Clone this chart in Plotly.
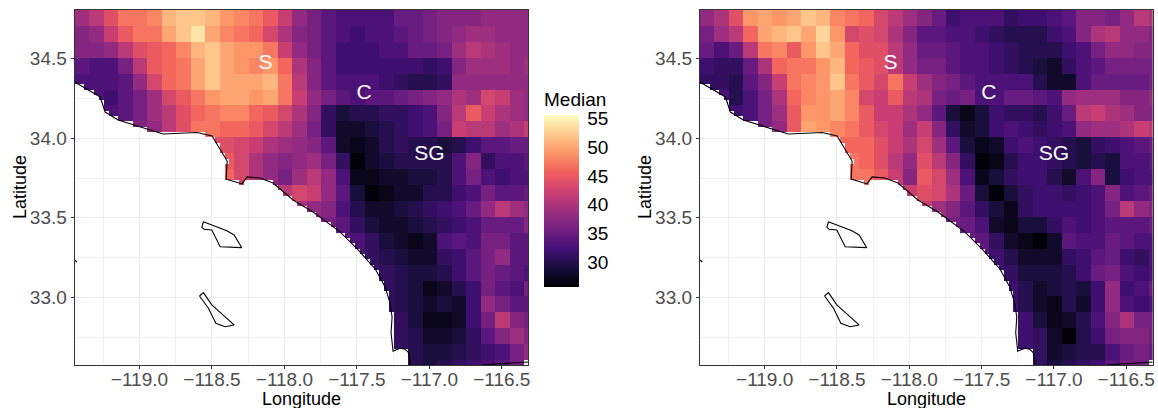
import numpy as np
import plotly.graph_objects as go

_ = None
LON_RANGE = [-119.447, -116.317]
LAT_RANGE = [32.574, 34.807]
CELL = 0.1
SPLIT = 3

median_left = [
 [39,41,44,47,47,48,51,52,52,51,49,48,47,45,42, 38,36,34,33,33,33,33,35,35,36,37,37,37,38,38,38,38],
 [37,38,42,45,47,47,50,52,54,50,48,47,46,43,40, 37,36,34,33,32,33,33,34,35,36,37,38,39,39,38,38,38],
 [37,37,38,41,44,45,46,48,51,52,50,49,49,47,42, 38,36,34,32,32,32,33,33,35,35,36,39,41,40,39,38,38],
 [34,33,33,36,41,45,46,47,50,52,50,49,48,49,46, 40,37,34,32,32,32,32,32,32,31,32,37,39,39,39,38,39],
 [33,33,33,34,38,43,46,47,50,52,50,50,50,51,47, 41,37,34,33,33,33,32,31,30,30,31,38,38,38,38,38,38],
 [33,33,32,34,36,39,43,45,47,49,50,50,49,50,47, 42,38,36,34,33,34,34,35,36,37,38,40,39,43,42,39,38],
 [_,33,33,34,36,39,41,44,46,47,48,48,46,45,43, 40,37,31,29,30,30,31,31,32,33,37,41,45,42,40,39,38],
 [_,_,35,36,37,38,41,44,47,47,46,46,45,43,41, 39,36,31,28,28,29,30,31,32,33,36,42,41,41,39,40,42],
 [_]*9 + [44,44,43,42,40,39, 38,37,34,28,27,28,30,31,30,30,29,30,32,34,34,35,35],
 [_]*9 + [45,45,43,40,38,37, 38,39,36,31,26,28,29,30,30,30,30,33,37,31,33,33,34],
 [_]*10 + [46,43,40,38,36, 39,41,38,33,27,27,28,28,29,29,30,33,36,33,32,33,33],
 [_]*14 + [41, 43,42,38,34,29,26,27,28,28,30,30,32,33,36,34,34,35],
 [_]*15 + [40,38,37,33,30,28,28,29,30,31,32,33,35,38,41,39,38],
 [_]*17 + [36,34,31,29,28,28,29,30,31,32,33,35,35,35,37],
 [_]*18 + [34,33,31,29,28,27,28,33,34,33,36,36,34,34],
 [_]*19 + [33,31,30,29,28,28,31,32,34,36,38,34,34],
 [_]*20 + [32,31,30,29,29,30,32,34,36,35,34,33],
 [_]*21 + [31,30,29,27,28,30,32,36,34,33,36],
 [_]*21 + [31,30,29,28,29,28,32,38,36,34,34],
 [_]*21 + [33,31,29,27,27,28,32,36,41,37,36],
 [_]*22 + [31,30,28,28,29,31,34,37,39,37],
 [_]*22 + [31,30,29,29,30,31,32,33,36,38],
 [_]*23 + [30,29,30,31,32,33,34,36,38],
]

median_right = [
 [38,40,44,49,50,49,50,52,51,48,47,46,43,41,39, 37,35,32,33,33,33,31,32,32,33,34,37,37,36,38,41,40],
 [36,39,41,46,50,51,52,50,53,49,43,44,43,40,37, 34,34,33,33,32,31,30,30,30,32,33,37,40,41,38,38,37],
 [35,33,35,41,47,48,45,49,52,50,46,44,44,41,38, 35,35,34,33,33,32,31,30,30,30,32,33,36,38,38,37,37],
 [32,31,31,35,40,46,47,47,49,51,46,45,44,41,38, 36,36,34,33,33,32,31,30,29,28,31,33,34,36,36,36,36],
 [31,31,30,34,37,42,47,48,49,52,47,45,43,47,42, 39,37,36,34,33,33,33,33,30,28,28,33,35,35,35,35,36],
 [33,33,30,33,36,40,46,48,49,50,48,43,42,45,41, 40,36,35,36,33,33,35,35,34,33,38,39,39,39,37,37,38],
 [_,33,32,33,36,39,45,49,49,50,48,45,42,42,40, 38,34,29,27,29,32,31,31,30,32,35,41,42,40,39,37,37],
 [_,_,34,34,36,38,45,50,49,48,47,45,43,42,39, 42,37,31,28,29,32,33,32,31,32,33,38,39,39,40,42,41],
 [_]*9 + [46,46,46,44,42,40, 43,39,34,29,27,28,32,33,32,31,30,29,31,32,33,34,35],
 [_]*9 + [47,47,46,44,41,38, 44,41,37,31,26,27,30,32,32,31,30,29,30,29,33,33,34],
 [_]*10 + [47,47,45,42,37, 45,43,39,33,27,29,31,32,32,30,28,33,37,29,32,33,33],
 [_]*14 + [42, 44,43,40,35,29,26,29,31,32,32,31,32,33,37,33,34,35],
 [_]*15 + [42,39,37,34,31,29,27,31,32,32,32,32,33,36,41,38,37],
 [_]*17 + [36,35,33,28,27,29,29,31,33,32,33,34,34,34,35],
 [_]*18 + [35,34,31,28,27,26,28,34,33,33,35,34,33,33],
 [_]*19 + [34,32,30,28,28,28,31,32,34,35,32,31,33],
 [_]*20 + [32,31,29,29,29,30,32,35,36,33,32,33],
 [_]*21 + [32,30,28,29,30,29,32,38,32,33,35],
 [_]*21 + [32,30,28,27,30,28,32,38,33,32,33],
 [_]*21 + [34,32,29,27,28,30,33,37,40,36,36],
 [_]*22 + [32,31,28,26,30,32,36,37,37,36],
 [_]*22 + [32,31,28,29,30,30,33,35,36,35],
 [_]*23 + [31,29,30,31,32,34,36,36,36],
]

coast_lon = [-119.447,-119.374,-119.271,-119.237,-119.147,-118.837,-118.602,-118.499,-118.395,-118.402,
             -118.292,-118.257,-118.168,-118.078,-117.94,-117.802,-117.616,-117.491,-117.374,-117.305,
             -117.271,-117.257,-117.264,-117.25,-117.202,-117.168,-117.14,-117.132]
coast_lat = [34.354,34.316,34.26,34.165,34.115,34.027,34.036,34.014,33.857,33.744,
             33.713,33.757,33.75,33.719,33.612,33.536,33.411,33.298,33.179,33.065,
             32.964,32.876,32.775,32.661,32.68,32.674,32.649,32.574]
border_lon = [-116.637,-116.317]
border_lat = [32.574,32.593]
island1_lon = [-118.559,-118.57,-118.554,-118.501,-118.443,-118.294,-118.347,-118.397,-118.559]
island1_lat = [33.475,33.44,33.428,33.423,33.318,33.312,33.392,33.419,33.475]
island2_lon = [-118.586,-118.559,-118.501,-118.347,-118.409,-118.473,-118.524,-118.586]
island2_lat = [33.008,33.029,32.952,32.826,32.815,32.836,32.931,33.008]
islet_lon = [-119.447,-119.432]
islet_lat = [33.235,33.222]

region_names = ["S", "C", "SG"]
region_lon = [-118.13, -117.45, -117.0]
region_lat = [34.47, 34.28, 33.895]

lon_ticks = [-119.0, -118.5, -118.0, -117.5, -117.0, -116.5]
lat_ticks = [33.0, 33.5, 34.0, 34.5]
lon_minor = [-119.25, -118.75, -118.25, -117.75, -117.25, -116.75]
lat_minor = [32.75, 33.25, 33.75, 34.25, 34.75]
legend_ticks = [30, 35, 40, 45, 50, 55]
ZMIN, ZMAX = 25.7, 55.6

W, H = 1158, 408


def inside(px, py, vx, vy):
    vx = np.asarray(vx); vy = np.asarray(vy)
    res = np.zeros(px.shape, dtype=bool)
    n = len(vx)
    for i in range(n):
        j = (i - 1) % n
        cond = (vy[i] > py) != (vy[j] > py)
        with np.errstate(divide="ignore", invalid="ignore"):
            xi = (vx[j] - vx[i]) * (py - vy[i]) / (vy[j] - vy[i] + 1e-12) + vx[i]
        res ^= cond & (px < xi)
    return res


land_x = coast_lon + border_lon + [-116.1, -116.1, -119.7, -119.7]
land_y = coast_lat + border_lat + [32.6, 35.0, 35.0, 34.354]


def fine(values):
    arr = np.array([[np.nan if v is None else v for v in r] for r in values], dtype=float)
    arr = np.repeat(np.repeat(arr, SPLIT, axis=0), SPLIT, axis=1)
    ny, nx = arr.shape
    d = CELL / SPLIT
    xs = LON_RANGE[0] + d * (np.arange(nx) + 0.5)
    ys = LAT_RANGE[1] - d * (np.arange(ny) + 0.5)
    gx, gy = np.meshgrid(xs, ys)
    mask = inside(gx, gy, land_x, land_y)
    arr[~mask] = np.nan
    z = [[None if np.isnan(v) else float(v) for v in r] for r in arr]
    return xs.tolist(), ys.tolist(), z


fig = go.Figure()
panels = [("x", "y", median_left), ("x2", "y2", median_right)]
for k, (xa, ya, vals) in enumerate(panels):
    xs, ys, z = fine(vals)
    fig.add_trace(go.Heatmap(x=xs, y=ys, z=z, coloraxis="coloraxis", xaxis=xa, yaxis=ya,
                             hoverongaps=False))
    for lx, ly in [(coast_lon + [None] + border_lon, coast_lat + [None] + border_lat),
                   (island1_lon, island1_lat), (island2_lon, island2_lat), (islet_lon, islet_lat)]:
        fig.add_trace(go.Scatter(x=lx, y=ly, mode="lines", line=dict(color="black", width=1.1),
                                 xaxis=xa, yaxis=ya, showlegend=False, hoverinfo="skip"))
    fig.add_trace(go.Scatter(x=region_lon, y=region_lat, text=region_names, mode="text",
                             textfont=dict(color="white", size=21, family="Liberation Sans"),
                             xaxis=xa, yaxis=ya, showlegend=False, hoverinfo="skip"))

tick_font = dict(size=19, color="#4d4d4d", family="Liberation Sans")
title_font = dict(size=18, color="black", family="Liberation Sans")


def xaxis(dom):
    return dict(domain=dom, range=LON_RANGE, tickvals=lon_ticks, tickformat=".1f", tickfont=tick_font,
                ticks="outside", ticklen=3, tickcolor="#333333", ticklabelstandoff=-6,
                showgrid=True, gridcolor="#ebebeb", gridwidth=1,
                minor=dict(tickvals=lon_minor, showgrid=True, gridcolor="#f0f0f0", gridwidth=1, ticks=""),
                showline=True, mirror=True, linecolor="#333333", linewidth=1.2, zeroline=False,
                automargin=False)


def yaxis():
    return dict(domain=[1 - 365 / H, 1 - 10 / H], range=LAT_RANGE, tickvals=lat_ticks, tickformat=".1f",
                tickfont=tick_font, ticks="outside", ticklen=3, tickcolor="#333333",
                showgrid=True, gridcolor="#ebebeb", gridwidth=1,
                minor=dict(tickvals=lat_minor, showgrid=True, gridcolor="#f0f0f0", gridwidth=1, ticks=""),
                showline=True, mirror=True, linecolor="#333333", linewidth=1.2, zeroline=False,
                automargin=False)


y2 = yaxis(); y2["anchor"] = "x2"
xa2 = xaxis([700 / W, 1152.7 / W]); xa2["anchor"] = "y2"
ya1 = yaxis(); ya1["anchor"] = "x"
xa1 = xaxis([74.7 / W, 528.3 / W]); xa1["anchor"] = "y"

BAR_TOP, BAR_LEN, TITLE_H = 115, 172, 26
BAR_L, BAR_R = 544, 579
shapes = []
for t in legend_ticks:
    yp = 1 - (BAR_TOP + (ZMAX - t) / (ZMAX - ZMIN) * BAR_LEN) / H
    for a, b in [(BAR_L, BAR_L + 7), (BAR_R - 7, BAR_R)]:
        shapes.append(dict(type="line", xref="paper", yref="paper", x0=a / W, x1=b / W, y0=yp, y1=yp,
                           line=dict(color="white", width=1)))

annotations = []
for cx_title, cx_lat in [(301, 20), (926, 645)]:
    annotations.append(dict(text="Longitude", x=cx_title / W, y=1 - 399 / H, xref="paper", yref="paper",
                            xanchor="center", yanchor="middle", showarrow=False, font=title_font))
    annotations.append(dict(text="Latitude", x=cx_lat / W, y=1 - 187 / H, xref="paper", yref="paper",
                            xanchor="center", yanchor="middle", textangle=-90, showarrow=False, font=title_font))

fig.update_layout(
    width=W, height=H, margin=dict(l=0, r=0, t=0, b=0), autosize=False,
    paper_bgcolor="white", plot_bgcolor="white", showlegend=False, shapes=shapes, annotations=annotations,
    font=dict(family="Liberation Sans"),
    xaxis=xa1, yaxis=ya1, xaxis2=xa2, yaxis2=y2,
    coloraxis=dict(cmin=ZMIN, cmax=ZMAX, colorscale="Magma",
                   colorbar=dict(title=dict(text="Median", side="top", font=dict(size=19, color="black")),
                                 x=BAR_L / W, xanchor="left", y=1 - (BAR_TOP - TITLE_H) / H, yanchor="top",
                                 lenmode="pixels", len=BAR_LEN + TITLE_H, thicknessmode="pixels", thickness=BAR_R - BAR_L,
                                 tickvals=legend_ticks, ticks="outside", ticklen=5, tickcolor="rgba(0,0,0,0)",
                                 tickfont=dict(size=19, color="black"), outlinewidth=0, xpad=0, ypad=0,
                                 bgcolor="rgba(0,0,0,0)")),
)

fig.write_html("out.html", config=dict(displayModeBar=False),
               post_script="document.body.style.margin='0';document.documentElement.style.overflow='hidden';")
